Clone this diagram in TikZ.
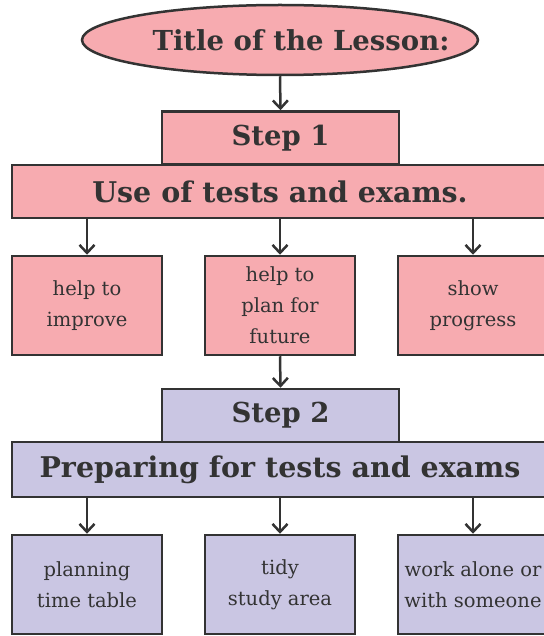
\documentclass[tikz,border=0pt]{standalone}
\usepackage{fontspec}
\setmainfont{DejaVu Serif}
\usetikzlibrary{arrows.meta,shapes.geometric}
\definecolor{pinkfill}{HTML}{F7ABB0}
\definecolor{lilacfill}{HTML}{CAC6E3}
\definecolor{ink}{HTML}{333333}
\tikzset{
  x=1pt, y=-1pt,
  every node/.style={text=ink},
  box/.style={draw=ink, line width=2.5pt, rectangle, inner sep=0pt, align=center},
  pinkbox/.style={box, fill=pinkfill},
  lilacbox/.style={box, fill=lilacfill},
  small/.style={font=\fontsize{19.5}{31}\selectfont},
  head/.style={font=\fontsize{28.5}{30}\selectfont\bfseries},
  stephead/.style={font=\fontsize{27.5}{30}\selectfont\bfseries},
  link/.style={draw=ink, line width=2.5pt, -{Straight Barb[length=8pt,width=15pt,line width=2.5pt]}},
}
\begin{document}
\begin{tikzpicture}
\useasboundingbox (0,0) rectangle (543,636);
% title
\node[ellipse, draw=ink, line width=2.5pt, fill=pinkfill, minimum width=396pt, minimum height=70pt, inner sep=0pt,
      font=\fontsize{27.5}{30}\selectfont\bfseries] (title) at (280,40)
      {\makebox[0pt]{\hspace*{42pt}Title of the Lesson:}};
% step 1
\node[pinkbox, minimum width=237pt, minimum height=53pt, stephead] (s1) at (280.5,138) {Step 1};
\node[pinkbox, minimum width=536pt, minimum height=53pt, head] (use) at (280,191.5) {Use of tests and exams.};
\node[pinkbox, minimum width=150pt, minimum height=99pt, small] (a1) at (87,305.5) {help to\\improve};
\node[pinkbox, minimum width=150pt, minimum height=99pt, small] (a2) at (280,305.5) {help to\\plan for\\future};
\node[pinkbox, minimum width=150pt, minimum height=99pt, small] (a3) at (473,305.5) {show\\progress};
% step 2
\node[lilacbox, minimum width=237pt, minimum height=53pt, stephead] (s2) at (280.5,415.5) {Step 2};
\node[lilacbox, minimum width=536pt, minimum height=55pt, head] (prep) at (280,469.5) {Preparing for tests and exams};
\node[lilacbox, minimum width=150pt, minimum height=99pt, small] (b1) at (87,584.5) {planning\\time table};
\node[lilacbox, minimum width=150pt, minimum height=99pt, small] (b2) at (280,584.5) {tidy\\study area};
\node[lilacbox, minimum width=150pt, minimum height=99pt, small] (b3) at (473,584.5) {work alone or\\with someone};
% connectors
\draw[link] (title.south) -- (s1.north);
\draw[link] (use.south -| a1.north) -- (a1.north);
\draw[link] (use.south -| a2.north) -- (a2.north);
\draw[link] (use.south -| a3.north) -- (a3.north);
\draw[link] (a2.south) -- (s2.north);
\draw[link] (prep.south -| b1.north) -- (b1.north);
\draw[link] (prep.south -| b2.north) -- (b2.north);
\draw[link] (prep.south -| b3.north) -- (b3.north);
\end{tikzpicture}
\end{document}
